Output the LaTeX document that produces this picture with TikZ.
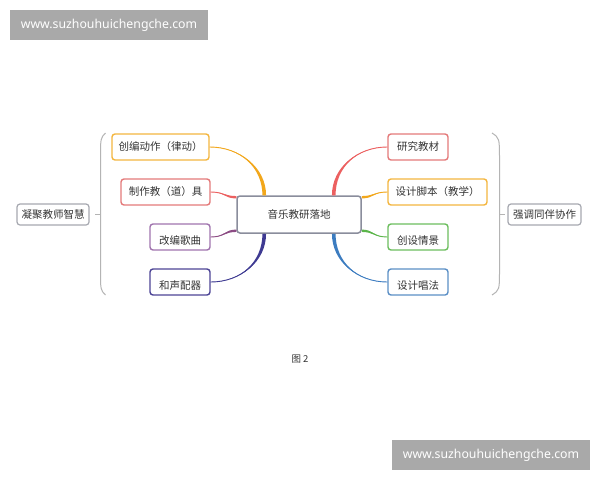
\documentclass[tikz,border=0pt]{standalone}
\usepackage{fontspec}
\setmainfont{Noto Sans}
\newfontfamily\cjk{Noto Sans CJK SC}
\usetikzlibrary{calc}
\definecolor{cOrB}{HTML}{F4B63F}\definecolor{cOrL}{HTML}{F2A71B}
\definecolor{cReB}{HTML}{E47A7A}\definecolor{cReL}{HTML}{EC6060}
\definecolor{cPuB}{HTML}{A074AE}\definecolor{cPuL}{HTML}{8C4C84}
\definecolor{cInB}{HTML}{4D4596}\definecolor{cInL}{HTML}{3E3A92}
\definecolor{cGrB}{HTML}{6DBE5E}\definecolor{cGrL}{HTML}{5BB54A}
\definecolor{cBlB}{HTML}{5B8FC6}\definecolor{cBlL}{HTML}{3C7CC0}
\definecolor{cGyB}{HTML}{A6A8B0}\definecolor{cCtB}{HTML}{8A8D9C}
\definecolor{cBr}{HTML}{B4B4B4}\definecolor{cTx}{HTML}{333333}
\definecolor{cWm}{HTML}{A9A9A9}
\newcommand\taperline[6]{%
 \fill[#1] (#2) .. controls ($(#2)+(#3)$) and ($(#4)+(#6)+(#5)$) .. ($(#4)+(#6)$) -- ($(#4)-(#6)$) .. controls ($(#4)-(#6)+(#5)$) and ($(#2)+(#3)$) .. (#2) -- cycle;
 \draw[#1, line width=0.9] (#2) .. controls ($(#2)+(#3)$) and ($(#4)+(#5)$) .. (#4);}
\tikzset{
 box/.style={draw=#1, line width=1.4, rounded corners=3, fill=white, minimum height=26, inner sep=0, text height=8, text depth=1.5, font=\cjk\fontsize{10.5}{12}\selectfont, text=cTx},
 low/.style={text height=17},
 side/.style={draw=cGyB, line width=1.2, rounded corners=3, fill=white, minimum height=21, inner sep=0, font=\cjk\fontsize{10.5}{12}\selectfont, text=cTx},
 brk/.style={draw=cBr, line width=1},
 wm/.style={fill=cWm, text=white, inner sep=0, font=\fontsize{12.3}{14}\selectfont},
}
\begin{document}
\begin{tikzpicture}[x=1pt,y=-1pt]
\useasboundingbox (0,0) rectangle (600,480);
\fill[white] (0,0) rectangle (600,480);
% watermarks
\node[wm, minimum width=198, minimum height=30] (wm1) at (109,25) {www.suzhouhuichengche.com};
\node[wm, minimum width=198, minimum height=30] (wm2) at (491,455) {www.suzhouhuichengche.com};
% centre
\node[draw=cCtB, line width=1.5, rounded corners=3, fill=white, minimum width=124, minimum height=37, inner sep=0, font=\cjk\fontsize{10.5}{12}\selectfont, text=cTx] (ctr) at (299,214.5) {音乐教研落地};
% left
\node[box=cOrB, minimum width=97] (l1) at (160.5,147) {创编动作（律动）};
\node[box=cReB, minimum width=89] (l2) at (165.5,192) {制作教（道）具};
\node[box=cPuB, low, minimum width=60] (l3) at (180,237) {改编歌曲};
\node[box=cInB, low, minimum width=60] (l4) at (180,282) {和声配器};
% right
\node[box=cReB, minimum width=60] (r1) at (418,147) {研究教材};
\node[box=cOrB, minimum width=99] (r2) at (437.5,192) {设计脚本（教学）};
\node[box=cGrB, low, minimum width=60] (r3) at (418,237) {创设情景};
\node[box=cBlB, low, minimum width=60] (r4) at (418,282) {设计唱法};
% sides
\node[side, minimum width=72] (ll) at (53,214.5) {凝聚教师智慧};
\node[side, minimum width=73] (rr) at (544.5,214.5) {强调同伴协作};
% connector end points on the centre box
\coordinate (cl1) at ($(ctr.north west)+(28,0)$);
\coordinate (cl2) at ($(ctr.north west)+(0,2)$);
\coordinate (cl3) at ($(ctr.south west)+(0,-3)$);
\coordinate (cl4) at ($(ctr.south west)+(28,0)$);
\coordinate (cr1) at ($(ctr.north east)+(-28,0)$);
\coordinate (cr2) at ($(ctr.north east)+(0,2)$);
\coordinate (cr3) at ($(ctr.south east)+(0,-3)$);
\coordinate (cr4) at ($(ctr.south east)+(-28,0)$);
% connectors (left)
\taperline{cOrL}{l1.east}{30,0}{cl1}{0,-28}{1.8,0}
\taperline{cReL}{l2.east}{14,0}{cl2}{-12,0}{0,1.2}
\taperline{cPuL}{l3.east}{14,0}{cl3}{-12,0}{0,1.2}
\taperline{cInL}{l4.east}{30,0}{cl4}{0,28}{1.8,0}
% connectors (right)
\taperline{cReL}{r1.west}{-30,0}{cr1}{0,-28}{1.8,0}
\taperline{cOrL}{r2.west}{-14,0}{cr2}{12,0}{0,1.2}
\taperline{cGrL}{r3.west}{-14,0}{cr3}{12,0}{0,1.2}
\taperline{cBlL}{r4.west}{-30,0}{cr4}{0,28}{1.8,0}
% brackets
\coordinate (bl) at (95,214.5);
\coordinate (br) at (505,214.5);
\draw[brk] (105.5,133) .. controls (100.5,138) .. (100.5,160) -- (100.5,270) .. controls (100.5,290) .. (105.5,295);
\draw[brk] (100.5,214.5) -- (bl);
\draw[brk] (492,133) .. controls (499.5,138) .. (499.5,160) -- (499.5,270) .. controls (499.5,290) .. (492,295);
\draw[brk] (499.5,214.5) -- (br);
% caption
\node[font=\cjk\fontsize{9.5}{11}\selectfont, text=cTx, inner sep=0] (cap) at (300,359) {图 2};
\end{tikzpicture}
\end{document}
